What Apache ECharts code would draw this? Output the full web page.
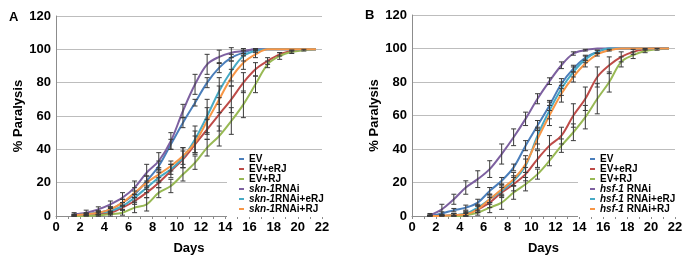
<!DOCTYPE html>
<html>
<head>
<meta charset="utf-8">
<script src="https://cdn.jsdelivr.net/npm/echarts@6/dist/echarts.min.js"></script>
<style>
  html, body { margin: 0; padding: 0; background: #fff; }
  #chart { width: 700px; height: 260px; }
</style>
</head>
<body>
<div id="chart"></div>
<script>
// days of each measurement
const days = [1.5, 2.5, 3.5, 4.5, 5.5, 6.5, 7.5, 8.5, 9.5, 10.5, 11.5, 12.5, 13.5, 14.5, 15.5, 16.5, 17.5, 18.5, 19.5, 20.5, 21.5];
const xTicks = [0, 2, 4, 6, 8, 10, 12, 14, 16, 18, 20, 22];
const yTicks = [0, 20, 40, 60, 80, 100, 120];

// panel A
const namesA = ["EV", "EV+eRJ", "EV+RJ", "skn-1RNAi", "skn-1RNAi+eRJ", "skn-1RNAi+RJ"];
const aEV = [0.5, 1, 2, 4, 8, 13, 21, 30, 43, 56, 68, 80, 89, 95, 98, 100, 100, 100, 100, 100, 100];
const aEVeRJ = [0, 0.5, 1, 2, 5, 9, 14, 20, 27, 34, 43, 52, 61, 70, 80, 88, 93, 97, 99, 100, 100];
const aEVRJ = [0, 0, 0.5, 1, 2, 5, 7, 14, 18, 25, 32, 41, 48, 57, 67, 79, 91, 96, 98.5, 99.5, 100];
const aSkn = [1, 2, 4, 7, 11, 17, 26, 33, 45, 63, 79, 91, 95.5, 98, 99, 100, 100, 100, 100, 100, 100];
const aSkneRJ = [0.5, 1, 2, 3, 6, 11, 17, 23, 28, 35, 46, 60, 75, 87, 96, 99, 100, 100, 100, 100, 100];
const aSknRJ = [0.5, 1, 2, 4, 8, 14, 20, 25, 30, 36, 44, 57, 70, 83, 92, 97, 100, 100, 100, 100, 100];
// error bars (+/-)
const aEVErr = [0.5, 1, 1, 1.5, 2, 2, 3, 3, 3, 3, 2, 3, 3, 2, 1.5, 0.5, 0, 0, 0, 0, 0];
const aEVeRJErr = [0.5, 0.5, 1, 1, 1.5, 2, 3, 3, 4, 5, 5, 6, 10, 8, 6, 4, 2, 1, 0.5, 0, 0];
const aEVRJErr = [0, 0, 0.5, 1, 1.5, 3, 4, 3, 4, 4, 4, 5, 6, 8, 8, 5, 2, 2, 1, 0.5, 0];
const aSknErr = [1, 1.5, 1.5, 2, 3, 4, 5, 5, 5, 4, 6, 6, 4, 3, 1.5, 0.5, 0, 0, 0, 0, 0];
const aSkneRJErr = [0.5, 0.5, 1, 1.5, 2, 2, 3, 3, 3, 6, 8, 10, 8, 6, 3, 1, 0, 0, 0, 0, 0];
const aSknRJErr = [0.5, 0.5, 1, 1.5, 2, 3, 4, 4, 3, 5, 7, 8, 8, 5, 4, 2, 0, 0, 0, 0, 0];

// panel B
const namesB = ["EV", "EV+eRJ", "EV+RJ", "hsf-1 RNAi", "hsf-1 RNAi+eRJ", "hsf-1 RNAi+RJ"];
const bEV = [0, 1.5, 3.5, 5, 8, 15, 21, 29, 42, 54, 66, 79, 88, 94.5, 98, 100, 100, 100, 100, 100, 100];
const bEVeRJ = [0, 0, 0.5, 1, 4, 8, 14, 19, 25, 34, 42, 48, 60, 70, 83, 90, 95, 98, 99.5, 100, 100];
const bEVRJ = [0, 0, 0, 0.5, 2, 5, 8, 14, 19, 25, 33, 42, 50, 59, 70, 80, 92, 96, 98.5, 99.5, 100];
const bHsf = [0.5, 4, 10, 17, 22, 28, 37, 47, 58, 70, 80.5, 90, 97, 99, 100, 100, 100, 100, 100, 100, 100];
const bHsfeRJ = [0, 0, 0.5, 1.5, 5, 10, 15, 21, 30, 48, 63, 76, 86, 93.5, 98, 100, 100, 100, 100, 100, 100];
const bHsfRJ = [0, 0, 0.5, 1, 4, 10, 16, 22, 31, 46, 60, 73, 83, 91, 96.5, 99, 100, 100, 100, 100, 100];
const bEVErr = [0.5, 1, 1, 1.5, 2, 2, 2, 2, 3, 3, 3, 3, 2, 1.5, 1, 0, 0, 0, 0, 0, 0];
const bEVeRJErr = [0.5, 0.5, 1, 1, 2, 3, 3, 4, 4, 5, 6, 5, 7, 7, 6, 5, 3, 1.5, 0.5, 0, 0];
const bEVRJErr = [0, 0, 0.5, 1, 1.5, 3, 4, 4, 4, 3, 3, 4, 5, 7, 9, 6, 3, 2, 1, 0.5, 0];
const bHsfErr = [1, 3, 3, 4, 5, 5, 6, 5, 4, 3, 2, 2, 1, 0.5, 0, 0, 0, 0, 0, 0, 0];
const bHsfeRJErr = [0.5, 0.5, 1, 1.5, 2, 2, 3, 3, 4, 5, 5, 4, 3, 2, 1, 0, 0, 0, 0, 0, 0];
const bHsfRJErr = [0.5, 0.5, 1, 1.5, 2, 3, 3, 4, 5, 6, 6, 5, 3, 2, 1, 0.5, 0, 0, 0, 0, 0];

const colors = ["#4A7EBB", "#BE4B48", "#98B954", "#7D60A0", "#46AAC5", "#F79646"];
const FONT = "Liberation Sans, Arial, sans-serif";

const chart = echarts.init(document.getElementById("chart"), null, { renderer: "canvas" });

const lineSeries = (name, vals, idx, c) => ({
  name: name,
  type: "line",
  xAxisIndex: idx,
  yAxisIndex: idx,
  data: days.map((d, i) => [d, vals[i]]),
  smooth: 0.35,
  showSymbol: false,
  symbol: "none",
  color: c,
  lineStyle: { color: c, width: 2 },
  z: 2,
  animation: false
});

const errSeries = (vals, errs, idx) => ({
  name: "err",
  type: "custom",
  xAxisIndex: idx,
  yAxisIndex: idx,
  data: days.map((d, i) => [d, vals[i], errs[i]]),
  encode: { x: 0, y: 1 },
  z: 3,
  silent: true,
  animation: false,
  renderItem: (params, api) => {
    const e = api.value(2);
    if (!e) return null;
    const x = api.value(0), y = api.value(1);
    const lo = api.coord([x, Math.max(0, y - e)]);
    const hi = api.coord([x, y + e]);
    const st = { stroke: "#3a3a3a", lineWidth: 1 };
    return {
      type: "group",
      children: [
        { type: "line", shape: { x1: lo[0], y1: lo[1], x2: hi[0], y2: hi[1] }, style: st },
        { type: "line", shape: { x1: lo[0] - 2.5, y1: lo[1], x2: lo[0] + 2.5, y2: lo[1] }, style: st },
        { type: "line", shape: { x1: hi[0] - 2.5, y1: hi[1], x2: hi[0] + 2.5, y2: hi[1] }, style: st }
      ]
    };
  }
});

const xAxis = (idx) => ({
  type: "value",
  gridIndex: idx,
  min: 0,
  max: 22,
  interval: 1,
  name: "Days",
  nameLocation: "middle",
  nameGap: 26,
  nameTextStyle: { fontFamily: FONT, fontWeight: "bold", fontSize: 13, color: "#000" },
  axisLine: { show: true, lineStyle: { color: "#8c8c8c", width: 1 } },
  axisTick: { show: true, length: 3, lineStyle: { color: "#8c8c8c" } },
  axisLabel: {
    fontFamily: FONT, fontWeight: "bold", fontSize: 13, color: "#000", margin: 5,
    formatter: (v) => (xTicks.indexOf(v) >= 0 ? String(v) : "")
  },
  splitLine: { show: false }
});

const yAxis = (idx) => ({
  type: "value",
  gridIndex: idx,
  min: yTicks[0],
  max: yTicks[yTicks.length - 1],
  interval: 20,
  name: "% Paralysis",
  nameLocation: "middle",
  nameGap: 29,
  nameTextStyle: { fontFamily: FONT, fontWeight: "bold", fontSize: 13, color: "#000" },
  axisLine: { show: true, lineStyle: { color: "#8c8c8c", width: 1 } },
  axisTick: { show: false },
  axisLabel: { fontFamily: FONT, fontWeight: "bold", fontSize: 13, color: "#000", margin: 5 },
  splitLine: { show: true, lineStyle: { color: "#bdbdbd", width: 1 } }
});

const legendFmt = (name) => {
  const m = name.match(/^(skn-1|hsf-1)(.*)$/);
  if (m) return "{i|" + m[1] + "}{b|" + m[2] + "}";
  return "{b|" + name + "}";
};
const legendText = {
  fontFamily: FONT, fontSize: 10, fontWeight: "bold", color: "#000", lineHeight: 9.7,
  rich: {
    i: { fontFamily: FONT, fontSize: 10, fontWeight: "bold", fontStyle: "italic", color: "#000", lineHeight: 9.7 },
    b: { fontFamily: FONT, fontSize: 10, fontWeight: "bold", color: "#000", lineHeight: 9.7 }
  }
};
const legend = (names, left) => ({
  data: names,
  orient: "vertical",
  left: left,
  top: 151,
  itemWidth: 5,
  itemHeight: 2,
  itemGap: 0,
  icon: "rect",
  backgroundColor: "#fff",
  padding: [3, 20, 3, 12],
  selectedMode: false,
  formatter: legendFmt,
  textStyle: legendText
});

const option = {
  animation: false,
  backgroundColor: "#fff",
  title: [
    { text: "A", left: 4, top: 6, textStyle: { fontFamily: FONT, fontWeight: "bold", fontSize: 13, color: "#000" } },
    { text: "B", left: 360, top: 4, textStyle: { fontFamily: FONT, fontWeight: "bold", fontSize: 13, color: "#000" } }
  ],
  grid: [
    { left: 56, right: 378, top: 16, bottom: 43 },
    { left: 412, right: 25, top: 15, bottom: 43 }
  ],
  xAxis: [xAxis(0), xAxis(1)],
  yAxis: [yAxis(0), yAxis(1)],
  legend: [legend(namesA, 227), legend(namesB, 578)],
  series: [
    lineSeries(namesA[0], aEV, 0, colors[0]),
    lineSeries(namesA[1], aEVeRJ, 0, colors[1]),
    lineSeries(namesA[2], aEVRJ, 0, colors[2]),
    lineSeries(namesA[3], aSkn, 0, colors[3]),
    lineSeries(namesA[4], aSkneRJ, 0, colors[4]),
    lineSeries(namesA[5], aSknRJ, 0, colors[5]),
    errSeries(aEV, aEVErr, 0),
    errSeries(aEVeRJ, aEVeRJErr, 0),
    errSeries(aEVRJ, aEVRJErr, 0),
    errSeries(aSkn, aSknErr, 0),
    errSeries(aSkneRJ, aSkneRJErr, 0),
    errSeries(aSknRJ, aSknRJErr, 0),
    lineSeries(namesB[0], bEV, 1, colors[0]),
    lineSeries(namesB[1], bEVeRJ, 1, colors[1]),
    lineSeries(namesB[2], bEVRJ, 1, colors[2]),
    lineSeries(namesB[3], bHsf, 1, colors[3]),
    lineSeries(namesB[4], bHsfeRJ, 1, colors[4]),
    lineSeries(namesB[5], bHsfRJ, 1, colors[5]),
    errSeries(bEV, bEVErr, 1),
    errSeries(bEVeRJ, bEVeRJErr, 1),
    errSeries(bEVRJ, bEVRJErr, 1),
    errSeries(bHsf, bHsfErr, 1),
    errSeries(bHsfeRJ, bHsfeRJErr, 1),
    errSeries(bHsfRJ, bHsfRJErr, 1)
  ]
};
chart.setOption(option);
</script>
</body>
</html>
